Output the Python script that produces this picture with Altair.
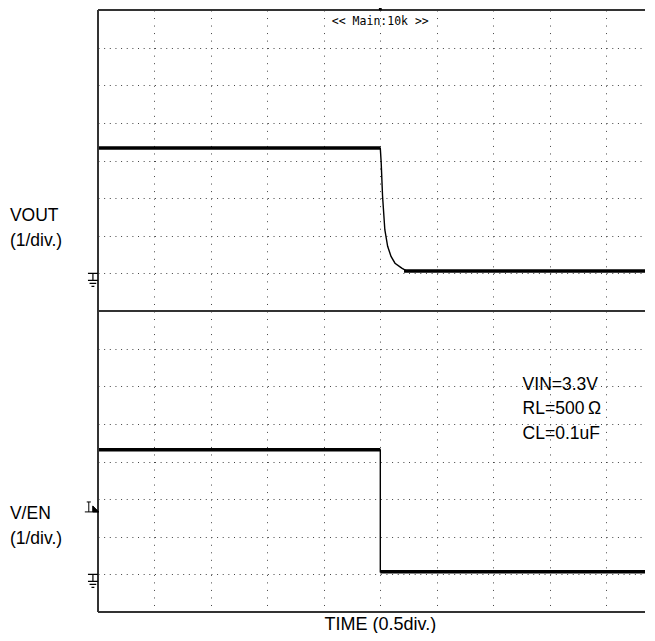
import altair as alt
import pandas as pd

# ---- data (time in divisions, volts at 1 V/div) ----
vout_t = [0.0, 5.0, 5.016, 5.04, 5.08, 5.13, 5.19, 5.26, 5.38, 5.47, 9.86]
vout_v = [3.33, 3.33, 2.93, 2.05, 1.16, 0.72, 0.45, 0.27, 0.14, 0.06, 0.06]
ven_t = [0.0, 5.0, 5.0, 9.86]
ven_v = [3.31, 3.31, 0.07, 0.07]

# flat (noisy) parts of the traces: start, end, level
vout_flat = [(0.0, 5.0, 3.33), (5.42, 9.86, 0.06)]
ven_flat = [(0.0, 5.0, 3.31), (5.0, 9.86, 0.07)]

VOUT_GND = 9      # division of the VOUT ground marker
VEN_GND = 1       # division of the V/EN ground marker
TRIG_LEVEL = 1.66 # trigger level on V/EN, volts
T_END = 9.688     # visible time span (divisions)

x_grid = [1, 2, 3, 4, 5, 6, 7, 8, 9]
y_grid = [1, 2, 3, 4, 5, 6, 7, 9, 10, 11, 12, 13, 14, 15]

side_labels = ["VOUT", "(1/div.)", "V/EN", "(1/div.)"]
side_x = [-1.56, -1.56, -1.56, -1.56]
side_y = [10.38, 9.72, 2.47, 1.82]

note_labels = ["VIN=3.3V", "RL=500\u2009\u03a9", "CL=0.1uF"]
note_x = [7.52, 7.52, 7.52]
note_y = [5.91, 5.26, 4.61]

# ---- tables ----
trace = pd.DataFrame(
    [{"ch": "VOUT", "i": i, "t": t, "y": VOUT_GND + v} for i, (t, v) in enumerate(zip(vout_t, vout_v))]
    + [{"ch": "VEN", "i": i, "t": t, "y": VEN_GND + v} for i, (t, v) in enumerate(zip(ven_t, ven_v))]
)
flat = pd.DataFrame(
    [{"t": a, "t2": b, "y": VOUT_GND + v} for a, b, v in vout_flat]
    + [{"t": a, "t2": b, "y": VEN_GND + v} for a, b, v in ven_flat]
)
frame = pd.DataFrame([
    {"t": 0, "t2": T_END, "y": 16, "y2": 16},
    {"t": 0, "t2": T_END, "y": 8, "y2": 8},
    {"t": 0, "t2": T_END, "y": 0, "y2": 0},
    {"t": 0, "t2": 0, "y": 0, "y2": 16},
])
gnd = pd.DataFrame({"t": [-0.09, -0.09], "y": [VOUT_GND, VEN_GND]})
trig = pd.DataFrame({"t": [-0.11], "y": [VEN_GND + TRIG_LEVEL]})
topmark = pd.DataFrame({"t": [5.0], "y": [16.03]})
side = pd.DataFrame({"t": side_x, "y": side_y, "label": side_labels})
notes = pd.DataFrame({"t": note_x, "y": note_y, "label": note_labels})
main_txt = pd.DataFrame({"t": [5.0], "y": [15.6], "label": ["<< Main:10k >>"]})
time_txt = pd.DataFrame({"t": [5.0], "y": [-0.48], "label": ["TIME (0.5div.)"]})

xs = alt.Scale(domain=[0, T_END], nice=False, zero=False)
ys = alt.Scale(domain=[0, 16], nice=False, zero=False)
x_axis = alt.Axis(values=x_grid, grid=True, gridDash=[1, 6.525], gridColor="#444",
                  gridWidth=1, labels=False, ticks=False, domain=False, title=None)
y_axis = alt.Axis(values=y_grid, grid=True, gridDash=[1, 4.646], gridColor="#444",
                  gridWidth=1, labels=False, ticks=False, domain=False, title=None)


def X(f="t"):
    return alt.X(f, type="quantitative", scale=xs, axis=x_axis)


def Y(f="y"):
    return alt.Y(f, type="quantitative", scale=ys, axis=y_axis)


frame_layer = alt.Chart(frame).mark_rule(color="#333", strokeWidth=2).encode(
    x=X(), x2="t2:Q", y=Y(), y2="y2:Q")

flat_layer = alt.Chart(flat).mark_rule(color="#000", strokeWidth=3.5, clip=True).encode(
    x=X(), x2="t2:Q", y=Y())

trace_layer = alt.Chart(trace).mark_line(color="#000", strokeWidth=1.4, clip=True).encode(
    x=X(), y=Y(), detail="ch:N", order="i:Q")

GND_PATH = ("M -0.31 0 L 0.31 0 M 0 0 L 0 0.44 M -0.31 0.44 L 0.31 0.44 "
            "M -0.21 0.63 L 0.21 0.63 M -0.09 0.81 L 0.09 0.81")
gnd_layer = alt.Chart(gnd).mark_point(shape=GND_PATH, size=1024, filled=False,
                                      color="#000", strokeWidth=1.2, opacity=1).encode(
    x=X(), y=Y())

TRIG_PATH = ("M -0.58 0 L 0.58 0 M -0.42 -0.83 L -0.08 -0.83 M -0.25 -0.83 L -0.25 0 "
             "M 0.08 -0.5 L 0.58 0 L 0.08 0 Z")
trig_layer = alt.Chart(trig).mark_point(shape=TRIG_PATH, size=576, filled=True,
                                        fill="#000", stroke="#000", strokeWidth=1,
                                        opacity=1).encode(x=X(), y=Y())

top_layer = alt.Chart(topmark).mark_point(shape="square", size=8, filled=True,
                                          color="#000", opacity=1).encode(x=X(), y=Y())

side_layer = alt.Chart(side).mark_text(align="left", baseline="alphabetic",
                                       font="Liberation Sans", fontSize=17.5,
                                       color="#000").encode(x=X(), y=Y(), text="label:N")

notes_layer = alt.Chart(notes).mark_text(align="left", baseline="alphabetic",
                                         font="Liberation Sans", fontSize=17.5,
                                         color="#000").encode(x=X(), y=Y(), text="label:N")

main_layer = alt.Chart(main_txt).mark_text(align="center", baseline="alphabetic",
                                           font="DejaVu Sans Mono", fontSize=11.5,
                                           color="#000").encode(x=X(), y=Y(), text="label:N")

time_layer = alt.Chart(time_txt).mark_text(align="center", baseline="alphabetic",
                                           font="Liberation Sans", fontSize=18,
                                           color="#000").encode(x=X(), y=Y(), text="label:N")

chart = alt.layer(
    trace_layer, flat_layer, frame_layer, gnd_layer, trig_layer, top_layer,
    side_layer, notes_layer, main_layer, time_layer,
).properties(
    width=547, height=602,
    autosize=alt.AutoSizeParams(type="none"),
    padding={"left": 90, "top": 2, "right": 0, "bottom": 21},
    background="white",
).configure_view(stroke=None)

chart.save("out.html", embed_options={"renderer": "svg", "actions": False})
